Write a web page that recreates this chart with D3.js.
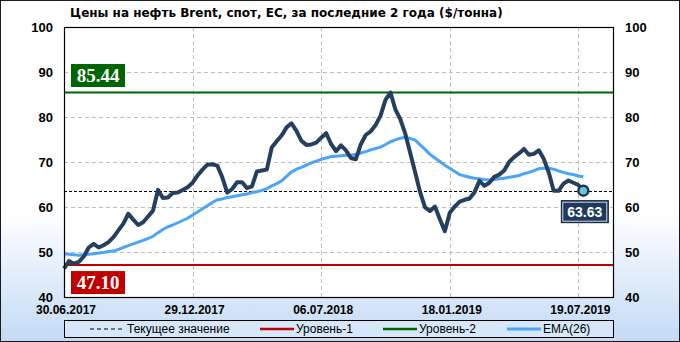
<!DOCTYPE html>
<html>
<head>
<meta charset="utf-8">
<style>
  body { margin: 0; background: #fff; }
  svg text { font-family: "Liberation Sans", Arial, sans-serif; }
</style>
</head>
<body>
<svg width="680" height="342"></svg>
<script src="https://cdn.jsdelivr.net/npm/d3@7"></script>
<script>
// weekly Brent spot prices, $/t
var prices = [
  46.3, 48.0, 47.4, 47.8, 49.0, 51.0, 51.8, 51.0, 51.5, 52.2,
  53.3, 54.8, 56.3, 58.5, 57.2, 56.0, 56.6, 57.9, 59.2, 63.8,
  62.0, 62.1, 63.1, 63.2, 63.8, 64.4, 65.4, 67.0, 68.3, 69.4,
  69.5, 69.2, 66.6, 63.2, 64.0, 65.5, 65.5, 64.2, 64.6, 67.9,
  68.1, 68.3, 73.2, 74.6, 75.9, 77.7, 78.6, 76.9, 74.7, 73.8,
  73.9, 74.3, 75.4, 76.4, 74.0, 72.4, 73.7, 72.6, 70.9, 70.6,
  73.9, 76.0, 76.8, 78.2, 80.3, 83.8, 85.44, 81.7, 79.5, 76.3,
  72.0, 67.7, 63.3, 59.9, 59.1, 60.1, 57.3, 54.6, 58.7, 60.1,
  61.2, 61.6, 61.9, 63.3, 65.8, 64.7, 65.4, 66.7, 67.2, 68.1,
  70.0, 71.1, 71.9, 72.9, 71.6, 71.8, 72.6, 70.7, 67.7, 63.6,
  63.6, 65.2, 65.9, 65.4, 64.9, 63.63
];
var ema26 = [
  49.6, 49.5, 49.4, 49.3, 49.4, 49.5, 49.6, 49.8, 49.9, 50.1,
  50.2, 50.6, 51.0, 51.4, 51.8, 52.2, 52.6, 53.0, 53.5, 54.3,
  55.0, 55.6, 56.0, 56.5, 57.0, 57.5, 58.2, 58.9, 59.6, 60.3,
  61.0, 61.6, 61.8, 62.1, 62.3, 62.5, 62.7, 62.9, 63.2, 63.4,
  63.7, 64.1, 64.7, 65.2, 65.8, 66.8, 67.8, 68.4, 68.8, 69.3,
  69.8, 70.2, 70.6, 70.9, 71.2, 71.3, 71.4, 71.5, 71.5, 71.7,
  72.0, 72.3, 72.7, 73.0, 73.3, 73.9, 74.5, 74.9, 75.3, 75.5,
  75.2, 74.9, 73.8, 72.8, 71.7, 70.9, 70.1, 69.3, 68.6, 67.9,
  67.2, 66.9, 66.6, 66.4, 66.3, 66.1, 66.0, 66.1, 66.3, 66.4,
  66.6, 66.8, 67.0, 67.4, 67.7, 68.1, 68.5, 68.6, 68.6, 68.4,
  68.0, 67.7, 67.4, 67.2, 66.9, 66.7
];
var tickIndex  = [0, 26, 52, 78, 104];
var tickLabels = ["30.06.2017", "29.12.2017", "06.07.2018", "18.01.2019", "19.07.2019"];
var yTicks     = [40, 50, 60, 70, 80, 90, 100];
var level1 = 47.10, level2 = 85.44, current = 63.63;
var legendNames = ["Текущее значение", "Уровень-1", "Уровень-2", "EMA(26)"];

var svg = d3.select("svg"),
    W = 680, H = 342,
    pL = 64, pR = 613, pT = 27, pB = 297;

var x = d3.scaleLinear().domain([0, 111]).range([pL, pR]);
var y = d3.scaleLinear().domain([40, 100]).range([pB, pT]);

var defs = svg.append("defs");
var grad = defs.append("linearGradient").attr("id", "bg")
    .attr("x1", 0).attr("y1", 0).attr("x2", 0).attr("y2", 1);
grad.append("stop").attr("offset", "0%").attr("stop-color", "#ffffff");
grad.append("stop").attr("offset", "62%").attr("stop-color", "#ffffff");
grad.append("stop").attr("offset", "100%").attr("stop-color", "#c4daf5");

svg.append("rect").attr("x", 0.5).attr("y", 0.5).attr("width", W - 1).attr("height", H - 1)
    .attr("fill", "url(#bg)").attr("stroke", "#1a1a1a");

// title
svg.append("text").attr("x", 70).attr("y", 17)
    .attr("font-size", 12).attr("font-weight", "bold").attr("fill", "#000")
    .style("font-family", "'DejaVu Sans', Verdana, sans-serif")
    .text("Цены на нефть Brent, спот, ЕС, за последние 2 года ($/тонна)");

// plot area
svg.append("rect").attr("x", pL).attr("y", pT)
    .attr("width", pR - pL).attr("height", pB - pT).attr("fill", "#fff");

var grid = svg.append("g").attr("stroke", "#bdbdbd").attr("stroke-dasharray", "4,3");
grid.selectAll("line.h").data(yTicks.filter(function(d) { return d > 40 && d < 100; }))
  .enter().append("line")
    .attr("x1", pL).attr("x2", pR)
    .attr("y1", function(d) { return Math.round(y(d)) + 0.5; })
    .attr("y2", function(d) { return Math.round(y(d)) + 0.5; });
grid.selectAll("line.v").data(tickIndex.slice(1))
  .enter().append("line")
    .attr("y1", pT).attr("y2", pB)
    .attr("x1", function(d) { return Math.round(x(d)) + 0.5; })
    .attr("x2", function(d) { return Math.round(x(d)) + 0.5; });

// y labels, both sides
var yl = svg.append("g").attr("font-size", 13).attr("font-weight", "bold");
yl.selectAll("text.l").data(yTicks).enter().append("text")
    .attr("x", 53).attr("y", function(d) { return y(d); })
    .attr("dy", "0.35em").attr("text-anchor", "end").text(function(d) { return d; });
yl.selectAll("text.r").data(yTicks).enter().append("text")
    .attr("x", 625).attr("y", function(d) { return y(d); })
    .attr("dy", "0.35em").attr("text-anchor", "start").text(function(d) { return d; });

// x labels
svg.append("g").attr("font-size", 12).attr("font-weight", "bold")
  .selectAll("text").data(tickIndex).enter().append("text")
    .attr("x", function(d) { return x(d) + 2; }).attr("y", 314)
    .attr("text-anchor", "middle").text(function(d, i) { return tickLabels[i]; });

// levels
svg.append("line").attr("x1", pL).attr("x2", pR)
    .attr("y1", y(level1)).attr("y2", y(level1))
    .attr("stroke", "#c00000").attr("stroke-width", 2);
svg.append("line").attr("x1", pL).attr("x2", pR)
    .attr("y1", y(level2)).attr("y2", y(level2))
    .attr("stroke", "#006400").attr("stroke-width", 2);
svg.append("line").attr("x1", pL).attr("x2", pR)
    .attr("y1", Math.round(y(current)) + 0.5).attr("y2", Math.round(y(current)) + 0.5)
    .attr("stroke", "#000").attr("stroke-dasharray", "3,2");

// series
var line = d3.line().x(function(d, i) { return x(i); }).y(function(d) { return y(d); });
svg.append("path").datum(ema26).attr("d", line)
    .attr("fill", "none").attr("stroke", "#4aa5f7").attr("stroke-width", 3)
    .attr("stroke-linejoin", "round");
svg.append("path").datum(prices).attr("d", line)
    .attr("fill", "none").attr("stroke", "#243f60").attr("stroke-width", 4)
    .attr("stroke-linejoin", "round");

// plot border
svg.append("rect").attr("x", pL + 0.5).attr("y", pT + 0.5)
    .attr("width", pR - pL).attr("height", pB - pT)
    .attr("fill", "none").attr("stroke", "#000").attr("stroke-width", 1.2);

// level value boxes
function levelBox(val, yTop, color) {
  svg.append("rect").attr("x", 71).attr("y", yTop).attr("width", 54).attr("height", 23)
      .attr("fill", color);
  svg.append("text").attr("x", 98).attr("y", yTop + 17.5)
      .attr("text-anchor", "middle").attr("fill", "#fff")
      .attr("font-weight", "bold").attr("font-size", 19)
      .style("font-family", "'Liberation Serif', serif")
      .text(val.toFixed(2));
}
levelBox(level2, y(level2) - 28.5, "#006400");
levelBox(level1, y(level1) + 6, "#c00000");

// last point
var last = prices.length - 1;
svg.append("circle").attr("cx", x(last)).attr("cy", y(prices[last])).attr("r", 5)
    .attr("fill", "#6cc3d8").attr("stroke", "#1d3557").attr("stroke-width", 2.5);
var bx = x(last) - 22, by = y(prices[last]) + 10;
svg.append("rect").attr("x", bx).attr("y", by).attr("width", 47).attr("height", 22)
    .attr("fill", "#1f3a5f").attr("stroke", "#0d1e33").attr("stroke-width", 1);
svg.append("rect").attr("x", bx + 1.5).attr("y", by + 1.5).attr("width", 44).attr("height", 19)
    .attr("fill", "none").attr("stroke", "#ffffff").attr("stroke-width", 0.8);
svg.append("text").attr("x", bx + 23.5).attr("y", by + 16)
    .attr("text-anchor", "middle").attr("fill", "#fff")
    .attr("font-size", 14).attr("font-weight", "bold")
    .text(prices[last].toFixed(2));

// legend
svg.append("rect").attr("x", 64.5).attr("y", 320.5).attr("width", 549).attr("height", 17)
    .attr("fill", "#d6e7fa").attr("stroke", "#000");
var legX = [90, 260, 383, 507];
var legStyle = [
  { c: "#000", w: 1, dash: "4,3" },
  { c: "#c00000", w: 2.5, dash: null },
  { c: "#006400", w: 2.5, dash: null },
  { c: "#4aa5f7", w: 3, dash: null }
];
var lg = svg.append("g").selectAll("g").data(legendNames).enter().append("g")
    .attr("transform", function(d, i) { return "translate(" + legX[i] + ",329)"; });
lg.append("line").attr("x1", 0).attr("x2", function(d, i) { return i === 0 ? 32 : 34; })
    .attr("y1", 0).attr("y2", 0)
    .attr("stroke", function(d, i) { return legStyle[i].c; })
    .attr("stroke-width", function(d, i) { return legStyle[i].w; })
    .attr("stroke-dasharray", function(d, i) { return legStyle[i].dash; });
lg.append("text").attr("x", function(d, i) { return i === 0 ? 37 : 36; }).attr("y", 0)
    .attr("dy", "0.35em").attr("font-size", 12).text(function(d) { return d; });
</script>
</body>
</html>
